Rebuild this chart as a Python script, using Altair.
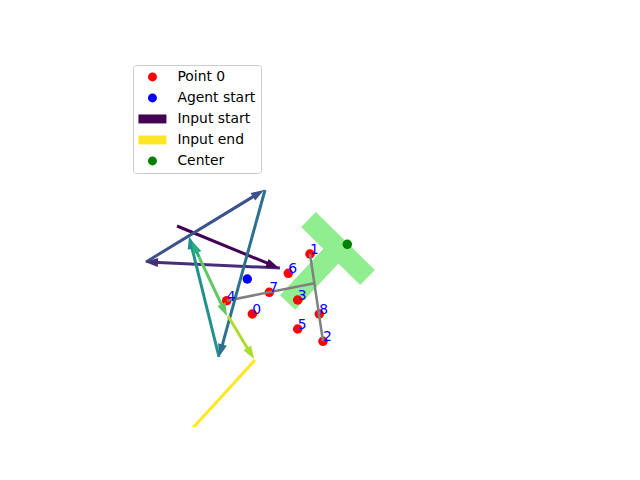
import altair as alt
import pandas as pd
import numpy as np

# ---------------- data (pixel-like units, y down) -------------
# T-shaped block: centre lines of the cross bar and of the stem
t_x1 = [308.5, 338.0]
t_y1 = [219.5, 248.5]
t_x2 = [367.5, 287.5]
t_y2 = [277.5, 302.5]

# numbered keypoints
pt_x = [252.3, 310.0, 323.0, 297.7, 226.7, 297.7, 288.3, 269.3, 319.3]
pt_y = [314.0, 254.0, 341.3, 300.0, 300.7, 329.0, 273.3, 292.3, 314.0]
pt_label = ["0", "1", "2", "3", "4", "5", "6", "7", "8"]

agent_x = [247.3]
agent_y = [279.0]
center_x = [347.3]
center_y = [244.3]

# gray cross lines
g_x1 = [226.7, 310.0]
g_y1 = [300.7, 254.0]
g_x2 = [314.3, 323.0]
g_y2 = [283.3, 341.3]

# input arrows (start -> end), coloured from start (purple) to end (yellow)
a_x1 = [177, 280, 146, 265, 219, 199, 199, 228, 255]
a_y1 = [226, 268, 262, 190, 357, 257, 257, 316, 360]
a_x2 = [279, 145, 264, 219, 189, 192, 227, 254, 180]
a_y2 = [268, 262, 190, 357, 236, 241, 316, 359, 442]
a_col = ["#440154", "#472d7b", "#3b528b", "#2c728e", "#21918c",
         "#28ae80", "#5ec962", "#addc30", "#fde725"]

legend_names = ["Point 0", "Agent start", "Input start", "Input end", "Center"]
legend_colors = ["red", "blue", "#440154", "#fde725", "green"]

# ---------------- tables ----------------
t_df = pd.DataFrame({"x": t_x1, "y": t_y1, "x2": t_x2, "y2": t_y2})
g_df = pd.DataFrame({"x": g_x1, "y": g_y1, "x2": g_x2, "y2": g_y2})

a_df = pd.DataFrame({"x": a_x1, "y": a_y1, "xe": a_x2, "ye": a_y2, "col": a_col})
dx = a_df["xe"] - a_df["x"]
dy = a_df["ye"] - a_df["y"]
L = np.hypot(dx, dy)
a_df["ang"] = (np.degrees(np.arctan2(dx, -dy)) + 360) % 360
a_df["x2"] = a_df["xe"] - dx / L * 8
a_df["y2"] = a_df["ye"] - dy / L * 8

pts = pd.concat([
    pd.DataFrame({"x": pt_x, "y": pt_y, "kind": "Point 0"}),
    pd.DataFrame({"x": agent_x, "y": agent_y, "kind": "Agent start"}),
    pd.DataFrame({"x": center_x, "y": center_y, "kind": "Center"}),
], ignore_index=True)

lab_df = pd.DataFrame({"x": pt_x, "y": pt_y, "t": pt_label})

# ---------------- scales ----------------
xs = alt.Scale(domain=[126, 530], nice=False, zero=False)
ys = alt.Scale(domain=[58, 427], nice=False, zero=False, reverse=True)
X = lambda f: alt.X(f"{f}:Q", scale=xs, axis=None)
Y = lambda f: alt.Y(f"{f}:Q", scale=ys, axis=None)

rect_path = "M-3.13,-1H3.13V1H-3.13Z"
shape_range = ["circle", "circle", rect_path, rect_path, "circle"]

leg = alt.Legend(orient="none", legendX=7, legendY=7, padding=5, rowPadding=6,
                 symbolOffset=7.5, labelOffset=18, labelFontSize=13.9,
                 labelFont="DejaVu Sans", labelColor="black",
                 strokeColor="#cccccc", fillColor="rgba(255,255,255,0.8)",
                 cornerRadius=3, symbolSize=80, symbolStrokeWidth=0)

t_layer = alt.Chart(t_df).mark_rule(color="#90ee90", strokeWidth=21, strokeCap="butt").encode(
    x=X("x"), y=Y("y"), x2="x2:Q", y2="y2:Q")

p_layer = alt.Chart(pts).mark_point(filled=True, size=90, opacity=1).encode(
    x=X("x"), y=Y("y"),
    color=alt.Color("kind:N", title=None,
                    scale=alt.Scale(domain=legend_names, range=legend_colors), legend=leg),
    shape=alt.Shape("kind:N", title=None,
                    scale=alt.Scale(domain=legend_names, range=shape_range), legend=leg),
)

g_layer = alt.Chart(g_df).mark_rule(color="gray", strokeWidth=2.5).encode(
    x=X("x"), y=Y("y"), x2="x2:Q", y2="y2:Q")

a_lines = alt.Chart(a_df).mark_rule(strokeWidth=3, clip=True, strokeCap="butt").encode(
    x=X("x"), y=Y("y"), x2="x2:Q", y2="y2:Q",
    stroke=alt.Stroke("col:N", scale=None, legend=None))

a_heads = alt.Chart(a_df).mark_point(
    shape="M0,0L0.9,2.6L-0.9,2.6Z", filled=True, size=100, opacity=1, clip=True,
    strokeWidth=0).encode(
    x=X("xe"), y=Y("ye"),
    fill=alt.Fill("col:N", scale=None, legend=None),
    angle=alt.Angle("ang:Q", scale=None))

txt = alt.Chart(lab_df).mark_text(align="left", baseline="alphabetic", fontSize=13.9,
                                  color="blue", font="DejaVu Sans").encode(
    x=X("x"), y=Y("y"), text="t:N")

chart = alt.layer(t_layer, p_layer, g_layer, a_lines, a_heads, txt).properties(
    width=404, height=369, autosize="none",
    padding={"left": 126, "top": 58, "right": 110, "bottom": 53},
    background="white",
).configure(font="DejaVu Sans").configure_view(stroke=None)

chart.save("out.html", embed_options={"renderer": "svg", "actions": False})
